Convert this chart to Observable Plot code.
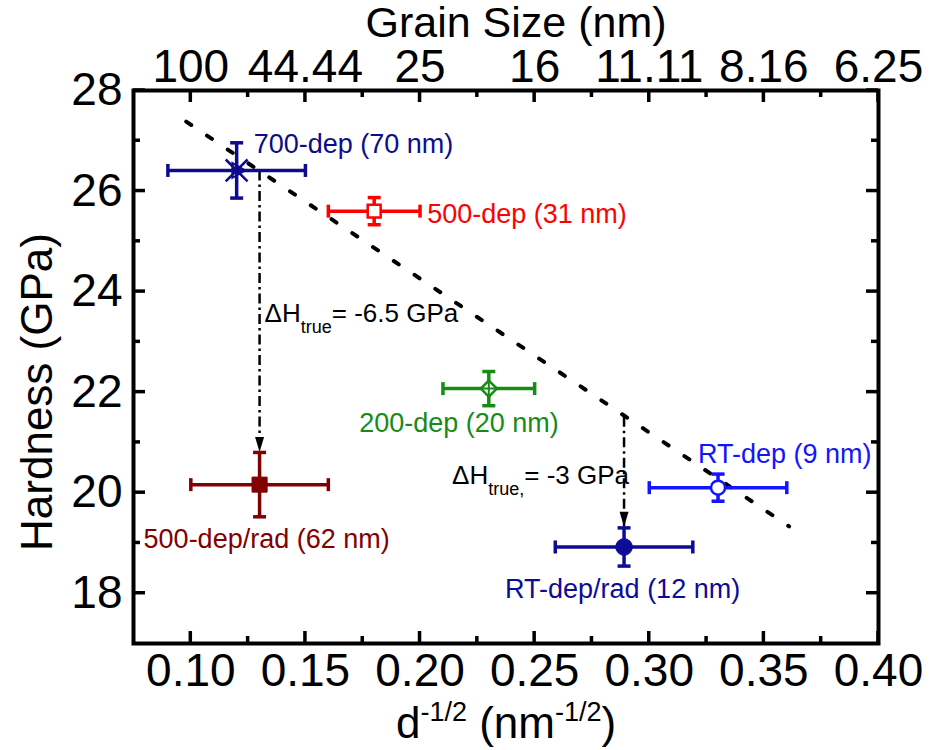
<!DOCTYPE html>
<html>
<head>
<meta charset="utf-8">
<script src="https://cdn.jsdelivr.net/npm/d3@7"></script>
<script src="https://cdn.jsdelivr.net/npm/@observablehq/plot@0.6"></script>
<style>
  html, body { margin: 0; padding: 0; background: #fff; }
  #chart { width: 929px; height: 750px; }
</style>
</head>
<body>
<div id="chart"></div>
<script>
// ---------------- data ----------------
const sampleNames = ["700-dep (70 nm)", "500-dep (31 nm)", "200-dep (20 nm)", "500-dep/rad (62 nm)", "RT-dep (9 nm)", "RT-dep/rad (12 nm)"];
const invRootD    = [0.120, 0.180, 0.230, 0.130, 0.330, 0.289];   // d^-1/2 (nm^-1/2)
const invRootDErr = [0.030, 0.020, 0.020, 0.030, 0.030, 0.030];
const hardness    = [26.41, 25.60, 22.07, 20.16, 20.10, 18.92];   // GPa
const hardnessErr = [0.55, 0.27, 0.34, 0.64, 0.27, 0.38];

const xDomain = [0.075, 0.40];
const yDomain = [17, 28];
const xTicks = [0.10, 0.15, 0.20, 0.25, 0.30, 0.35, 0.40];
const xMinorTicks = [0.125, 0.175, 0.225, 0.275, 0.325, 0.375];
const grainSizeLabels = ["100", "44.44", "25", "16", "11.11", "8.16", "6.25"];
const yTicks = [18, 20, 22, 24, 26, 28];
const yMinorTicks = [19, 21, 23, 25, 27];

const fitX = [0.098, 0.361];
const fitH = [27.38, 19.33];

const arrowX    = [0.130, 0.289];
const arrowFrom = [26.40, 21.50];
const arrowTo   = [20.81, 19.32];
const deltaTexts = ["ΔH_{true}= -6.5 GPa", "ΔH_{true,}= -3 GPa"];
const deltaH     = [23.57, 20.33];

// ---------------- layout & styles ----------------
const W = 929, H = 750, ML = 133, MR = 51, MT = 90, MB = 107;
const MAJOR = 12, MINOR = 7;   // tick lengths in px

const colors = ["#0c0c8c", "#ff0000", "#168c16", "#820000", "#1414ff", "#0c0c96"];
const labelPlacement = [
  {dx: 17,   dy: -26, anchor: "start"},
  {dx: 53,   dy: 3,   anchor: "start"},
  {dx: 70,   dy: 35,  anchor: "end"},
  {dx: -116, dy: 55,  anchor: "start"},
  {dx: -20,  dy: -33, anchor: "start"},
  {dx: -119, dy: 42,  anchor: "start"}
];
const markerSpecs = [
  [{symbol: "times", r: 10, fill: "none", sw: 2.5}, {symbol: "triangle", r: 5.5, fill: "none", sw: 2, rotate: 90}],
  [{symbol: "square", r: 7.3, fill: "white", sw: 2.5}],
  [{symbol: "diamond2", r: 7.2, fill: "white", sw: 2.5}, {symbol: "plus", r: 4.5, fill: "none", sw: 2}],
  [{symbol: "square", r: 8.5, fill: "color", sw: 1}],
  [{symbol: "circle", r: 7, fill: "white", sw: 2.5}],
  [{symbol: "circle", r: 8.3, fill: "color", sw: 1}]
];

const FONT = "'Liberation Sans', Arial, Helvetica, sans-serif";
const idx = d3.range(sampleNames.length);

const hCap = {draw(ctx, size) { const r = Math.sqrt(size / Math.PI); ctx.moveTo(-r, 0); ctx.lineTo(r, 0); }};
const vCap = {draw(ctx, size) { const r = Math.sqrt(size / Math.PI); ctx.moveTo(0, -r); ctx.lineTo(0, r); }};
const headDown = {draw(ctx) { ctx.moveTo(0, 0); ctx.lineTo(-4.5, -15); ctx.lineTo(4.5, -15); ctx.closePath(); }};

const marks = [];

// fit line
marks.push(Plot.line([0, 1], {x: fitX, y: fitH, stroke: "black", strokeWidth: 4, strokeDasharray: "6,19"}));

// dash-dot arrows
marks.push(Plot.ruleX([0, 1], {x: arrowX, y1: arrowFrom, y2: arrowTo, stroke: "black", strokeWidth: 2.5, strokeDasharray: "10,4,2.5,4"}));
marks.push(Plot.dot([0, 1], {x: arrowX, y: arrowTo, symbol: headDown, r: 5, fill: "black", stroke: "none"}));

// error bars
marks.push(Plot.ruleY(idx, {y: hardness, x1: i => invRootD[i] - invRootDErr[i], x2: i => invRootD[i] + invRootDErr[i], stroke: colors, strokeWidth: 3.5}));
marks.push(Plot.ruleX(idx, {x: invRootD, y1: i => hardness[i] - hardnessErr[i], y2: i => hardness[i] + hardnessErr[i], stroke: colors, strokeWidth: 3.5}));
marks.push(Plot.dot(idx, {x: i => invRootD[i] - invRootDErr[i], y: hardness, symbol: vCap, r: 6.5, stroke: colors, fill: "none", strokeWidth: 3.5}));
marks.push(Plot.dot(idx, {x: i => invRootD[i] + invRootDErr[i], y: hardness, symbol: vCap, r: 6.5, stroke: colors, fill: "none", strokeWidth: 3.5}));
marks.push(Plot.dot(idx, {x: invRootD, y: i => hardness[i] + hardnessErr[i], symbol: hCap, r: 6.5, stroke: colors, fill: "none", strokeWidth: 3.5}));
marks.push(Plot.dot(idx, {x: invRootD, y: i => hardness[i] - hardnessErr[i], symbol: hCap, r: 6.5, stroke: colors, fill: "none", strokeWidth: 3.5}));

// markers
idx.forEach(i => {
  markerSpecs[i].forEach(m => {
    marks.push(Plot.dot([i], {
      x: d => invRootD[d], y: d => hardness[d], symbol: m.symbol, r: m.r,
      stroke: colors[i], fill: m.fill === "color" ? colors[i] : m.fill,
      strokeWidth: m.sw, rotate: m.rotate || 0
    }));
  });
});

// sample labels
idx.forEach(i => {
  const p = labelPlacement[i];
  marks.push(Plot.text([i], {
    x: d => invRootD[d], y: d => hardness[d], text: d => sampleNames[d],
    fill: colors[i], dx: p.dx, dy: p.dy, textAnchor: p.anchor, fontSize: 27
  }));
});

// delta annotations
marks.push(Plot.text([0], {x: d => arrowX[d], y: d => deltaH[d], text: d => deltaTexts[d], dx: 5, textAnchor: "start", fontSize: 26, fill: "black"}));
marks.push(Plot.text([1], {x: d => arrowX[d], y: d => deltaH[d], text: d => deltaTexts[d], dx: 5, textAnchor: "end", fontSize: 26, fill: "black"}));

// frame
marks.push(Plot.frame({stroke: "black", strokeWidth: 4}));

// tick labels
marks.push(Plot.axisX(xTicks, {anchor: "bottom", tickSize: 0, tickPadding: 10, tickFormat: d3.format(".2f"), fontSize: 46, label: null, fill: "black"}));
marks.push(Plot.axisX(xTicks, {anchor: "top", tickSize: 0, tickPadding: 9, tickFormat: d => grainSizeLabels[xTicks.indexOf(d)], fontSize: 46, label: null, fill: "black"}));
marks.push(Plot.axisY(yTicks, {anchor: "left", tickSize: 0, tickPadding: 11, tickFormat: d3.format("d"), fontSize: 46, label: null, fill: "black"}));

// axis titles
marks.push(Plot.text(["Hardness (GPa)"], {frameAnchor: "left", textAnchor: "middle", lineAnchor: "middle", rotate: -90, dx: -96, dy: 25, fontSize: 44, fill: "black"}));
marks.push(Plot.text(["Grain Size (nm)"], {frameAnchor: "top", textAnchor: "middle", lineAnchor: "middle", dx: 10, dy: -67, fontSize: 43, fill: "black"}));
marks.push(Plot.text(["d^{-1/2} (nm^{-1/2})"], {frameAnchor: "bottom", textAnchor: "middle", lineAnchor: "middle", dx: 0, dy: 80, fontSize: 44, fill: "black"}));

const chart = Plot.plot({
  width: W,
  height: H,
  marginLeft: ML,
  marginRight: MR,
  marginTop: MT,
  marginBottom: MB,
  x: {domain: xDomain},
  y: {domain: yDomain},
  color: {type: "identity"},
  style: {fontFamily: FONT, background: "white", overflow: "visible", color: "black"},
  marks
});

document.getElementById("chart").appendChild(chart);

// ---------------- inward ticks on all four sides, placed with Plot's own scales ----------------
try {
  const sx = chart.scale("x"), sy = chart.scale("y");
  const px = v => sx.apply(v), py = v => sy.apply(v);
  const bottom = py(yDomain[0]), top = py(yDomain[1]);
  const left = px(xDomain[0]), right = px(xDomain[1]);
  const g = d3.select(chart).append("g")
    .attr("aria-label", "inward ticks")
    .attr("stroke", "black").attr("stroke-width", 3.5).attr("stroke-linecap", "butt");
  const segs = [];
  [[xTicks, MAJOR], [xMinorTicks, MINOR]].forEach(([ticks, len]) => {
    ticks.forEach(t => {
      const x = px(t);
      segs.push([x, bottom, x, bottom - len], [x, top, x, top + len]);
    });
  });
  [[yTicks, MAJOR], [yMinorTicks, MINOR]].forEach(([ticks, len]) => {
    ticks.forEach(t => {
      const y = py(t);
      segs.push([left, y, left + len, y], [right, y, right - len, y]);
    });
  });
  g.selectAll("line").data(segs).join("line")
    .attr("x1", d => d[0]).attr("y1", d => d[1]).attr("x2", d => d[2]).attr("y2", d => d[3]);
} catch (e) { /* keep chart even if ticks fail */ }

// ---------------- post-processing: rich text (super/subscripts) ----------------
const svgns = "http://www.w3.org/2000/svg";
function richify(el, supSize, supRaise, subSize, subDrop) {
  const raw = el.textContent;
  const parts = raw.split(/(\^\{[^}]*\}|_\{[^}]*\})/).filter(s => s.length);
  while (el.firstChild) el.removeChild(el.firstChild);
  let shift = 0;
  for (const p of parts) {
    const ts = document.createElementNS(svgns, "tspan");
    let target = 0, size = null, txt = p;
    if (p.startsWith("^{")) { target = -supRaise; size = supSize; txt = p.slice(2, -1); }
    else if (p.startsWith("_{")) { target = subDrop; size = subSize; txt = p.slice(2, -1); }
    ts.setAttribute("dy", target - shift);
    shift = target;
    if (size) ts.setAttribute("font-size", size);
    ts.textContent = txt;
    el.appendChild(ts);
  }
}
chart.querySelectorAll("text").forEach(el => {
  const t = el.textContent;
  if (t.includes("^{")) richify(el, 27, 17, 27, 0);
  else if (t.includes("_{")) richify(el, 26, 0, 18, 11);
});
</script>
</body>
</html>
